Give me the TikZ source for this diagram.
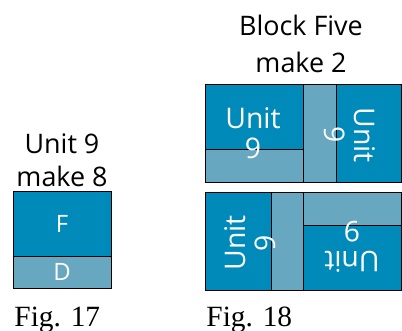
\documentclass[tikz,border=0pt]{standalone}
\usepackage{fontspec}
\newfontfamily\labelfont{Open Sans}
\newfontfamily\figfont{Liberation Serif}
\definecolor{blockdark}{HTML}{008AB9}
\definecolor{blocklight}{HTML}{67A7C0}

\begin{document}
\begin{tikzpicture}[x=1bp,y=-1bp,line width=0.9bp,
    dark/.style={fill=blockdark,draw=black},
    light/.style={fill=blocklight,draw=black},
    title/.style={font=\labelfont\fontsize{27}{30}\selectfont,anchor=base,inner sep=0pt},
    figlabel/.style={font=\figfont\fontsize{29.5}{32}\selectfont,anchor=base west,inner sep=0pt},
    piece/.style={text=white,align=center,inner sep=0pt,font=\labelfont\fontsize{28.5}{30}\selectfont},
    letter/.style={text=white,inner sep=0pt,font=\labelfont\fontsize{24}{28}\selectfont}]
        \useasboundingbox (0,0) rectangle (402,331);

        % draw fig. 17
        \draw[dark] (13,191) rectangle (111,256);
        \draw[light] (13,256) rectangle (111,288);
        \node[letter] (lf) at (62,224) {F};
        \node[letter] (ld) at (62,272) {D};
        \node[title] (unitnine) at (62,153) {Unit 9};
        \node[title] (makeeight) at (62,186) {make 8};
        \node[figlabel] (figa) at (14,326) {Fig. 17};

        % draw fig. 18, upper row
        \draw[dark] (205,84) rectangle (303,149);
        \draw[light] (205,149) rectangle (303,182);
        \draw[light] (303,84) rectangle (336,182);
        \draw[dark] (336,84) rectangle (401,182);

        % draw fig. 18, lower row
        \draw[dark] (205,192) rectangle (271,290);
        \draw[light] (271,192) rectangle (303,290);
        \draw[light] (303,192) rectangle (401,225);
        \draw[dark] (303,225) rectangle (401,290);

        % draw unit labels
        \node[piece] (ua) at (253,133) {Unit\\9};
        \node[piece,rotate=-90] (ub) at (350,135) {Unit\\9};
        \node[piece,rotate=90] (uc) at (250,243) {Unit\\9};
        \node[piece,rotate=180] (ud) at (352,247) {Unit\\9};

        % draw titles
        \node[title] (blockfive) at (301,35) {Block Five};
        \node[title] (maketwo) at (301,72) {make 2};
        \node[figlabel] (figb) at (206,326) {Fig. 18};
\end{tikzpicture}
\end{document}
